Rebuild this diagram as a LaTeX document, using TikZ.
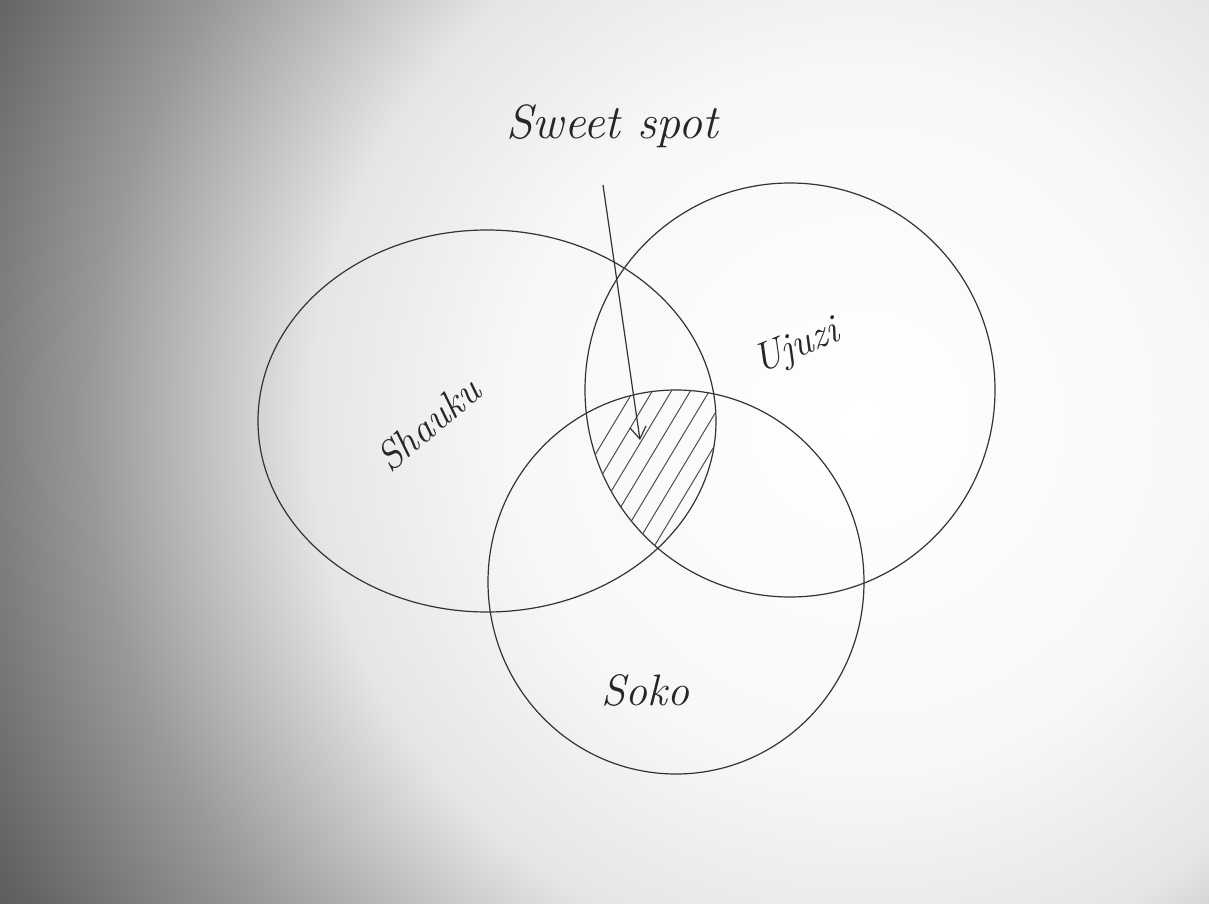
\documentclass[tikz,border=0pt]{standalone}
\usetikzlibrary{arrows.meta}
\pgfdeclareradialshading{vignette}{\pgfpoint{0bp}{0bp}}{color(0bp)=(white); color(8bp)=(white!97!black); color(12.5bp)=(black!10); color(17.5bp)=(black!40); color(22bp)=(black!62); color(25bp)=(black!70); color(50bp)=(black!70)}
\begin{document}
\begin{tikzpicture}[x=1pt,y=-1pt,
  pen/.style={draw=black!80, line width=1.2pt},
  hatch/.style={draw=black!70, line width=1pt},
  hand/.style={text=black!85, font=\itshape},
]
\useasboundingbox (0,0) rectangle (1209,904);
% paper background with vignette
\begin{scope}
  \clip (0,0) rectangle (1209,904);
  \shade[shading=vignette] (860,420) circle (1100);
\end{scope}
% circles
\coordinate (cA) at (487,421);
\coordinate (cB) at (790,390);
\coordinate (cC) at (676,582);
\draw[pen] (cA) ellipse [x radius=229, y radius=191];
\draw[pen] (cB) ellipse [x radius=205, y radius=207];
\draw[pen] (cC) ellipse [x radius=188, y radius=192];
% hatched sweet spot
\begin{scope}
  \clip (cA) ellipse [x radius=229, y radius=191];
  \clip (cB) ellipse [x radius=205, y radius=207];
  \clip (cC) ellipse [x radius=188, y radius=192];
  \foreach \k in {0,...,14} {
    \draw[hatch] ({520+19*\k},580) -- ({640+19*\k},380);
  }
\end{scope}
% labels
\node[hand, font=\itshape\fontsize{48}{52}\selectfont] (sweet) at (612,126) {Sweet spot};
\node[hand, font=\itshape\fontsize{40}{44}\selectfont, rotate=40] (shauku) at (428,424) {Shauku};
\node[hand, font=\itshape\fontsize{40}{44}\selectfont, rotate=22] (ujuzi) at (797,348) {Ujuzi};
\node[hand, font=\itshape\fontsize{44}{48}\selectfont] (soko) at (645,690) {Soko};
% arrow
\coordinate (start) at (603,185);
\coordinate (tip) at (640,440);
\draw[pen, -{Straight Barb[length=12pt,width=16pt]}] (start) -- (tip);
\end{tikzpicture}
\end{document}
